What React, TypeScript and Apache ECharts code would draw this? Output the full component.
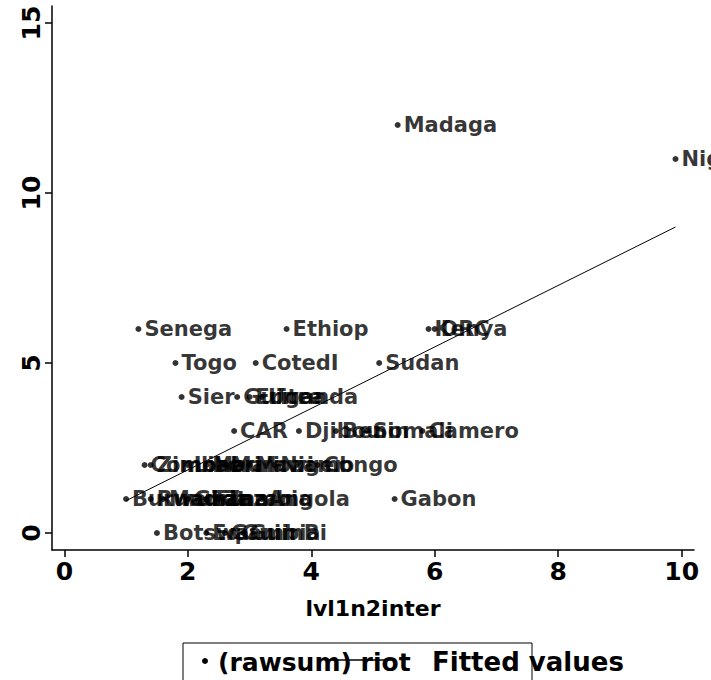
import React, { useEffect, useRef } from "react";
import * as echarts from "echarts";

const names = [
  "Madaga", "Nigeri",
  "Senega", "Ethiop", "Kenya", "DRC",
  "Togo", "CotedI", "Sudan",
  "Sier", "Guinea", "Eritre", "Uganda",
  "CAR", "Djibou", "Benin", "Somali", "Camero",
  "Comoro", "Zimbab", "Liberi", "Mauri", "Malawi", "Mozamb", "Niger", "Congo",
  "Burund", "Rwanda", "Maurit", "Ghana", "Tanzan", "Zambia", "Angola", "Gabon",
  "Botswa", "EqGuin", "Gambia", "GuinBi",
];
const xs = [
  5.4, 9.9,
  1.2, 3.6, 5.9, 6.0,
  1.8, 3.1, 5.1,
  1.9, 2.8, 3.0, 3.2,
  2.75, 3.8, 4.4, 4.9, 5.8,
  1.3, 1.4, 2.0, 2.3, 2.6, 3.0, 3.4, 4.1,
  1.0, 1.4, 1.6, 2.0, 2.3, 2.5, 3.2, 5.35,
  1.5, 2.3, 2.6, 2.9,
];
const ys = [
  12, 11,
  6, 6, 6, 6,
  5, 5, 5,
  4, 4, 4, 4,
  3, 3, 3, 3, 3,
  2, 2, 2, 2, 2, 2, 2, 2,
  1, 1, 1, 1, 1, 1, 1, 1,
  0, 0, 0, 0,
];
const fitX = [1.0, 9.9];
const fitY = [0.95, 9.0];
const xTicks = [0, 2, 4, 6, 8, 10];
const yTicks = [0, 5, 10, 15];
const xTitle = "lvl1n2inter";
const legendScatter = "(rawsum) riot";
const legendLine = "Fitted values";

const FONT = "DejaVu Sans";

export default function App() {
  const ref = useRef<HTMLDivElement>(null);
  useEffect(() => {
    document.body.style.margin = "0";
    const chart = echarts.init(ref.current!, null, { renderer: "svg" });
    chart.setOption({
      animation: false,
      backgroundColor: "#ffffff",
      grid: { left: 52, top: 6, width: 642, height: 544 },
      xAxis: {
        type: "value",
        min: -0.2,
        max: 10.2,
        splitLine: { show: false },
        axisLine: { onZero: false, lineStyle: { color: "#000", width: 1.5 } },
        axisTick: { customValues: xTicks, length: 7, lineStyle: { color: "#000", width: 1.5 } },
        axisLabel: {
          customValues: xTicks,
          color: "#000",
          fontFamily: FONT,
          fontWeight: "bold",
          fontSize: 25,
          margin: 9,
        },
        name: xTitle,
        nameLocation: "middle",
        nameGap: 47,
        nameTextStyle: { color: "#000", fontFamily: FONT, fontWeight: "bold", fontSize: 22 },
      },
      yAxis: {
        type: "value",
        min: -0.5,
        max: 15.5,
        splitLine: { show: false },
        axisLine: { onZero: false, lineStyle: { color: "#000", width: 1.5 } },
        axisTick: { customValues: yTicks, length: 7, lineStyle: { color: "#000", width: 1.5 } },
        axisLabel: {
          customValues: yTicks,
          color: "#000",
          fontFamily: FONT,
          fontWeight: "bold",
          fontSize: 25,
          rotate: 90,
          margin: 8,
        },
      },
      series: [
        {
          type: "scatter",
          symbol: "circle",
          symbolSize: 6,
          itemStyle: { color: "#000" },
          clip: false,
          data: names.map((n, i) => ({ name: n, value: [xs[i], ys[i]] })),
          label: {
            show: true,
            position: "right",
            distance: 3,
            formatter: "{b}",
            color: "#000",
            fontFamily: FONT,
            fontWeight: "bold",
            fontSize: 21,
          },
        },
        {
          type: "line",
          data: fitX.map((x, i) => [x, fitY[i]]),
          showSymbol: false,
          symbol: "none",
          lineStyle: { color: "#000", width: 1 },
        },
      ],
      graphic: [
        {
          type: "rect",
          shape: { x: 183, y: 643, width: 349, height: 60 },
          style: { fill: "none", stroke: "#000", lineWidth: 1 },
        },
        {
          type: "circle",
          shape: { cx: 205, cy: 661, r: 3 },
          style: { fill: "#000" },
        },
        {
          type: "text",
          x: 218,
          y: 662,
          style: {
            text: legendScatter,
            fill: "#000",
            font: `bold 25px "${FONT}"`,
            textVerticalAlign: "middle",
          },
        },
        {
          type: "line",
          shape: { x1: 326, y1: 660, x2: 392, y2: 660 },
          style: { stroke: "#000", lineWidth: 1.5 },
        },
        {
          type: "text",
          x: 432,
          y: 662,
          style: {
            text: legendLine,
            fill: "#000",
            font: `bold 26px "${FONT}"`,
            textVerticalAlign: "middle",
          },
        },
      ],
    });
    return () => chart.dispose();
  }, []);
  return <div ref={ref} style={{ width: 711, height: 680 }} />;
}
